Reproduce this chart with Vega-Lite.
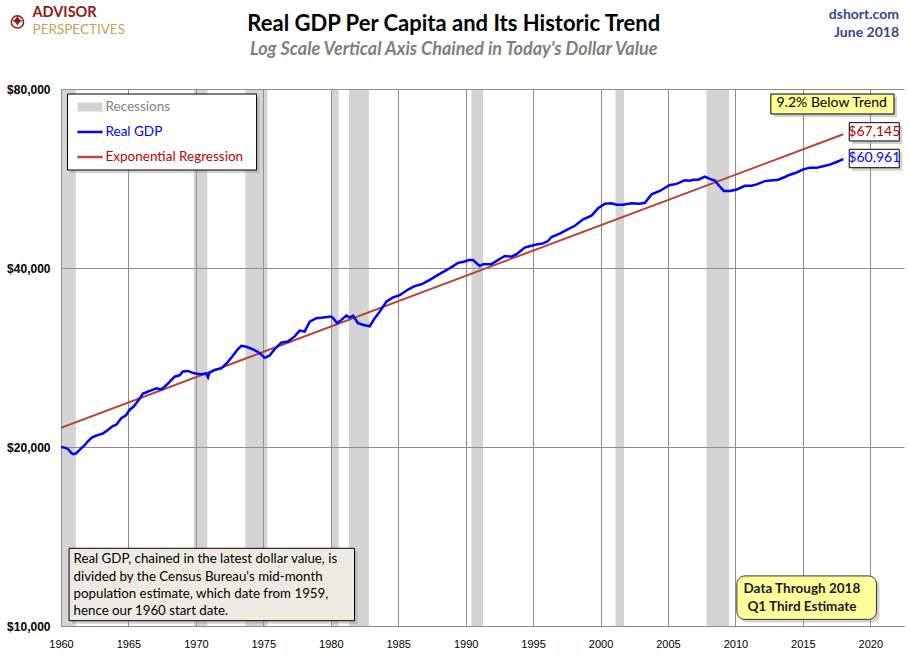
{
  "$schema": "https://vega.github.io/schema/vega-lite/v6.json",
  "width": 843,
  "height": 537,
  "autosize": {"type": "none"},
  "padding": {"left": 61, "top": 89, "right": 5, "bottom": 34},
  "background": "white",
  "resolve": {"scale": {"color": "independent"}},
  "config": {
    "view": {"stroke": null},
    "axis": {
      "labelFont": "Liberation Sans",
      "labelFontSize": 11,
      "labelColor": "#000000",
      "grid": true,
      "gridColor": "#8c8c8c",
      "gridWidth": 1,
      "ticks": false,
      "title": null
    }
  },
  "encoding": {
    "x": {
      "type": "quantitative",
      "scale": {"domain": [1960, 2022.5], "nice": false, "zero": false},
      "axis": {
        "values": [1960, 1965, 1970, 1975, 1980, 1985, 1990, 1995, 2000, 2005, 2010, 2015, 2020],
        "format": "d",
        "domain": true,
        "domainColor": "#8c8c8c",
        "labelPadding": 12,
        "labelFlush": false
      }
    },
    "y": {
      "type": "quantitative",
      "scale": {"type": "log", "domain": [10000, 80000], "nice": false, "zero": false},
      "axis": {
        "values": [10000, 20000, 40000, 80000],
        "format": "$,d",
        "domain": false,
        "labelPadding": 11,
        "labelFontSize": 12,
        "labelFontWeight": "bold"
      }
    }
  },
  "layer": [
    {
      "data": {"values": [
        {"start": 1960.0, "end": 1961.1},
        {"start": 1969.85, "end": 1970.85},
        {"start": 1973.67, "end": 1975.3},
        {"start": 1980.04, "end": 1980.59},
        {"start": 1981.35, "end": 1982.83},
        {"start": 1990.43, "end": 1991.29},
        {"start": 2001.11, "end": 2001.75},
        {"start": 2007.86, "end": 2009.54}
      ]},
      "mark": {"type": "rect", "fill": "#999999", "fillOpacity": 0.42},
      "encoding": {
        "x": {"field": "start", "type": "quantitative"},
        "x2": {"field": "end"},
        "y": null
      }
    },
    {
      "data": {"values": [
        {"x1": 1960.7, "x2": 1974.72, "y1": 77554, "y2": 57785},
        {"x1": 2012.85, "x2": 2021.98, "y1": 77554, "y2": 71781},
        {"x1": 2018.66, "x2": 2022.37, "y1": 69409, "y2": 64655},
        {"x1": 2018.66, "x2": 2022.37, "y1": 62608, "y2": 58299},
        {"x1": 1960.82, "x2": 1981.98, "y1": 13354, "y2": 10089}
      ]},
      "mark": {"type": "rect", "fill": "#9a9a9a", "fillOpacity": 0.45},
      "encoding": {
        "x": {"field": "x1", "type": "quantitative"},
        "x2": {"field": "x2"},
        "y": {"field": "y1", "type": "quantitative"},
        "y2": {"field": "y2"}
      }
    },
    {
      "data": {"values": [
        {"x1": 2010.33, "x2": 2020.68, "y1": 12000, "y2": 10141}
      ]},
      "mark": {"type": "rect", "fill": "#9a9a9a", "fillOpacity": 0.45, "cornerRadius": 8},
      "encoding": {
        "x": {"field": "x1", "type": "quantitative"},
        "x2": {"field": "x2"},
        "y": {"field": "y1", "type": "quantitative"},
        "y2": {"field": "y2"}
      }
    },
    {
      "data": {"values": [
        {"x1": 1960.48, "x2": 1974.5, "y1": 78460, "y2": 58460}
      ]},
      "mark": {"type": "rect", "fill": "#ffffff", "stroke": "#000000", "strokeWidth": 1},
      "encoding": {
        "x": {"field": "x1", "type": "quantitative"},
        "x2": {"field": "x2"},
        "y": {"field": "y1", "type": "quantitative"},
        "y2": {"field": "y2"}
      }
    },
    {
      "data": {"values": [
        {"x1": 1961.22, "x2": 1963.08, "y1": 75930, "y2": 73320}
      ]},
      "mark": {"type": "rect", "fill": "#d4d4d4"},
      "encoding": {
        "x": {"field": "x1", "type": "quantitative"},
        "x2": {"field": "x2"},
        "y": {"field": "y1", "type": "quantitative"},
        "y2": {"field": "y2"}
      }
    },
    {
      "data": {"values": [
        {"series": "Real GDP", "year": 1961.22, "value": 67740},
        {"series": "Real GDP", "year": 1963.08, "value": 67740},
        {"series": "Exponential Regression", "year": 1961.22, "value": 61470},
        {"series": "Exponential Regression", "year": 1963.08, "value": 61470}
      ]},
      "mark": {"type": "line", "strokeWidth": 2.5},
      "encoding": {
        "x": {"field": "year", "type": "quantitative"},
        "y": {"field": "value", "type": "quantitative"},
        "color": {
          "field": "series",
          "type": "nominal",
          "scale": {"domain": ["Real GDP", "Exponential Regression"], "range": ["#0000ff", "#b5443b"]},
          "legend": null
        }
      }
    },
    {
      "data": {"values": [
        {"label": "Recessions", "year": 1963.3, "value": 74610},
        {"label": "Real GDP", "year": 1963.3, "value": 67740},
        {"label": "Exponential Regression", "year": 1963.3, "value": 61470}
      ]},
      "mark": {"type": "text", "font": "Lato", "fontSize": 13.5, "align": "left", "baseline": "middle"},
      "encoding": {
        "x": {"field": "year", "type": "quantitative"},
        "y": {"field": "value", "type": "quantitative"},
        "text": {"field": "label"},
        "color": {
          "field": "label",
          "type": "nominal",
          "scale": {"domain": ["Recessions", "Real GDP", "Exponential Regression"], "range": ["#808080", "#0000ff", "#c00000"]},
          "legend": null
        }
      }
    },
    {
      "data": {"values": [
        {"year": 1960.0, "value": 21550},
        {"year": 2018.0, "value": 67145}
      ]},
      "mark": {"type": "line", "strokeWidth": 2, "color": "#b5443b", "clip": true},
      "encoding": {
        "x": {"field": "year", "type": "quantitative"},
        "y": {"field": "value", "type": "quantitative"}
      }
    },
    {
      "data": {"values": [
        {"year": 1960.0, "value": 20000}, {"year": 1960.25, "value": 19950}, {"year": 1960.5, "value": 19860},
        {"year": 1960.75, "value": 19550}, {"year": 1960.9, "value": 19450}, {"year": 1961.1, "value": 19500},
        {"year": 1961.4, "value": 19800}, {"year": 1961.75, "value": 20140}, {"year": 1962.0, "value": 20450},
        {"year": 1962.24, "value": 20700}, {"year": 1962.5, "value": 20850}, {"year": 1962.73, "value": 20940},
        {"year": 1963.1, "value": 21070}, {"year": 1963.47, "value": 21370}, {"year": 1963.84, "value": 21690},
        {"year": 1964.1, "value": 21800}, {"year": 1964.47, "value": 22360}, {"year": 1964.84, "value": 22640},
        {"year": 1965.08, "value": 23090}, {"year": 1965.35, "value": 23350}, {"year": 1965.58, "value": 23700},
        {"year": 1965.85, "value": 24150}, {"year": 1966.07, "value": 24600}, {"year": 1966.3, "value": 24700},
        {"year": 1966.56, "value": 24860}, {"year": 1966.8, "value": 24950}, {"year": 1967.06, "value": 25100},
        {"year": 1967.43, "value": 24990}, {"year": 1967.68, "value": 25260}, {"year": 1968.05, "value": 25740},
        {"year": 1968.42, "value": 26260}, {"year": 1968.79, "value": 26400}, {"year": 1969.04, "value": 26790},
        {"year": 1969.4, "value": 26850}, {"year": 1969.78, "value": 26650}, {"year": 1970.1, "value": 26550},
        {"year": 1970.4, "value": 26500}, {"year": 1970.77, "value": 26590}, {"year": 1970.9, "value": 26200},
        {"year": 1971.0, "value": 26650}, {"year": 1971.39, "value": 26950}, {"year": 1971.88, "value": 27120},
        {"year": 1972.1, "value": 27400}, {"year": 1972.38, "value": 27810}, {"year": 1972.62, "value": 28250},
        {"year": 1972.87, "value": 28720}, {"year": 1973.1, "value": 29200}, {"year": 1973.37, "value": 29600},
        {"year": 1973.74, "value": 29490}, {"year": 1974.05, "value": 29300}, {"year": 1974.35, "value": 29100},
        {"year": 1974.6, "value": 28900}, {"year": 1974.85, "value": 28600}, {"year": 1975.1, "value": 28250},
        {"year": 1975.47, "value": 28500}, {"year": 1975.7, "value": 28940}, {"year": 1975.9, "value": 29300},
        {"year": 1976.33, "value": 29970}, {"year": 1976.82, "value": 30090}, {"year": 1977.32, "value": 30690},
        {"year": 1977.69, "value": 31390}, {"year": 1978.06, "value": 31270}, {"year": 1978.44, "value": 32500},
        {"year": 1978.93, "value": 32940}, {"year": 1979.42, "value": 33010}, {"year": 1979.75, "value": 33080},
        {"year": 1980.05, "value": 33150}, {"year": 1980.3, "value": 32700}, {"year": 1980.46, "value": 32300},
        {"year": 1980.79, "value": 32720}, {"year": 1981.16, "value": 33260}, {"year": 1981.4, "value": 33010},
        {"year": 1981.65, "value": 33260}, {"year": 1982.02, "value": 32300}, {"year": 1982.51, "value": 32050},
        {"year": 1982.89, "value": 31920}, {"year": 1983.26, "value": 32940}, {"year": 1983.63, "value": 33780},
        {"year": 1984.12, "value": 35100}, {"year": 1984.62, "value": 35700}, {"year": 1985.11, "value": 36000},
        {"year": 1985.73, "value": 36800}, {"year": 1986.22, "value": 37300}, {"year": 1986.72, "value": 37560},
        {"year": 1987.34, "value": 38200}, {"year": 1987.95, "value": 38950}, {"year": 1988.57, "value": 39660},
        {"year": 1989.07, "value": 40300}, {"year": 1989.44, "value": 40800}, {"year": 1989.8, "value": 40950},
        {"year": 1990.25, "value": 41250}, {"year": 1990.55, "value": 41250}, {"year": 1991.05, "value": 40300},
        {"year": 1991.29, "value": 40600}, {"year": 1991.91, "value": 40600}, {"year": 1992.4, "value": 41250},
        {"year": 1992.9, "value": 41900}, {"year": 1993.4, "value": 41800}, {"year": 1993.77, "value": 42200},
        {"year": 1994.38, "value": 43300}, {"year": 1994.88, "value": 43600}, {"year": 1995.25, "value": 43800},
        {"year": 1995.74, "value": 44000}, {"year": 1996.11, "value": 44400}, {"year": 1996.36, "value": 45100},
        {"year": 1996.98, "value": 45700}, {"year": 1997.6, "value": 46500}, {"year": 1998.1, "value": 47100},
        {"year": 1998.71, "value": 48300}, {"year": 1999.33, "value": 49000}, {"year": 1999.82, "value": 50400},
        {"year": 2000.32, "value": 51300}, {"year": 2000.8, "value": 51400}, {"year": 2001.19, "value": 51100},
        {"year": 2001.68, "value": 51100}, {"year": 2002.3, "value": 51400}, {"year": 2002.9, "value": 51300},
        {"year": 2003.29, "value": 51500}, {"year": 2003.78, "value": 53200}, {"year": 2004.4, "value": 53900},
        {"year": 2005.1, "value": 55100}, {"year": 2005.64, "value": 55400}, {"year": 2006.25, "value": 56200},
        {"year": 2006.62, "value": 56100}, {"year": 2006.87, "value": 56300}, {"year": 2007.24, "value": 56300},
        {"year": 2007.74, "value": 57000}, {"year": 2008.1, "value": 56500}, {"year": 2008.48, "value": 56100},
        {"year": 2008.85, "value": 54800}, {"year": 2009.15, "value": 53900}, {"year": 2009.6, "value": 53900},
        {"year": 2010.1, "value": 54200}, {"year": 2010.7, "value": 55000}, {"year": 2011.2, "value": 55000},
        {"year": 2011.57, "value": 55300}, {"year": 2012.19, "value": 56000}, {"year": 2012.8, "value": 56200},
        {"year": 2013.17, "value": 56300}, {"year": 2013.67, "value": 56900}, {"year": 2014.04, "value": 57400},
        {"year": 2014.54, "value": 57900}, {"year": 2015.03, "value": 58600}, {"year": 2015.53, "value": 59000},
        {"year": 2016.0, "value": 58950}, {"year": 2016.5, "value": 59300}, {"year": 2017.0, "value": 59700},
        {"year": 2017.5, "value": 60300}, {"year": 2018.0, "value": 60961}
      ]},
      "mark": {"type": "line", "strokeWidth": 2.5, "color": "#0000ff", "clip": true},
      "encoding": {
        "x": {"field": "year", "type": "quantitative"},
        "y": {"field": "value", "type": "quantitative"}
      }
    },
    {
      "data": {"values": [
        {"x1": 2018.44, "x2": 2022.15, "y1": 70220, "y2": 65410},
        {"x1": 2018.44, "x2": 2022.15, "y1": 63340, "y2": 58980}
      ]},
      "mark": {"type": "rect", "fill": "#ffffff", "stroke": "#000000", "strokeWidth": 1},
      "encoding": {
        "x": {"field": "x1", "type": "quantitative"},
        "x2": {"field": "x2"},
        "y": {"field": "y1", "type": "quantitative"},
        "y2": {"field": "y2"}
      }
    },
    {
      "data": {"values": [
        {"x1": 2012.63, "x2": 2021.76, "y1": 78460, "y2": 72620}
      ]},
      "mark": {"type": "rect", "fill": "#ffff99", "stroke": "#000000", "strokeWidth": 1},
      "encoding": {
        "x": {"field": "x1", "type": "quantitative"},
        "x2": {"field": "x2"},
        "y": {"field": "y1", "type": "quantitative"},
        "y2": {"field": "y2"}
      }
    },
    {
      "data": {"values": [
        {"x1": 2010.11, "x2": 2020.46, "y1": 12140, "y2": 10260}
      ]},
      "mark": {"type": "rect", "fill": "#ffff99", "stroke": "#333333", "strokeWidth": 1, "cornerRadius": 8},
      "encoding": {
        "x": {"field": "x1", "type": "quantitative"},
        "x2": {"field": "x2"},
        "y": {"field": "y1", "type": "quantitative"},
        "y2": {"field": "y2"}
      }
    },
    {
      "data": {"values": [
        {"x1": 1960.6, "x2": 1981.76, "y1": 13510, "y2": 10207}
      ]},
      "mark": {"type": "rect", "fill": "#eeece1", "stroke": "#000000", "strokeWidth": 1},
      "encoding": {
        "x": {"field": "x1", "type": "quantitative"},
        "x2": {"field": "x2"},
        "y": {"field": "y1", "type": "quantitative"},
        "y2": {"field": "y2"}
      }
    },
    {
      "data": {"values": [
        {"year": 2017.14, "value": 75680, "label": "9.2% Below Trend"}
      ]},
      "mark": {"type": "text", "font": "Lato", "fontSize": 14, "color": "#000000", "align": "center", "baseline": "middle"},
      "encoding": {
        "x": {"field": "year", "type": "quantitative"},
        "y": {"field": "value", "type": "quantitative"},
        "text": {"field": "label"}
      }
    },
    {
      "data": {"values": [
        {"year": 2020.3, "value": 67740, "label": "$67,145"}
      ]},
      "mark": {"type": "text", "font": "Lato", "fontSize": 14, "color": "#c00000", "align": "center", "baseline": "middle"},
      "encoding": {
        "x": {"field": "year", "type": "quantitative"},
        "y": {"field": "value", "type": "quantitative"},
        "text": {"field": "label"}
      }
    },
    {
      "data": {"values": [
        {"year": 2020.3, "value": 61130, "label": "$60,961"}
      ]},
      "mark": {"type": "text", "font": "Lato", "fontSize": 14, "color": "#0000ff", "align": "center", "baseline": "middle"},
      "encoding": {
        "x": {"field": "year", "type": "quantitative"},
        "y": {"field": "value", "type": "quantitative"},
        "text": {"field": "label"}
      }
    },
    {
      "data": {"values": [
        {"year": 1960.93, "value": 12950, "label": "Real GDP, chained in the latest dollar value, is"},
        {"year": 1960.93, "value": 12100, "label": "divided by the Census Bureau's mid-month"},
        {"year": 1960.93, "value": 11320, "label": "population estimate, which date from 1959,"},
        {"year": 1960.93, "value": 10590, "label": "hence our 1960 start date."}
      ]},
      "mark": {"type": "text", "font": "Lato", "fontSize": 13.3, "color": "#000000", "align": "left", "baseline": "middle"},
      "encoding": {
        "x": {"field": "year", "type": "quantitative"},
        "y": {"field": "value", "type": "quantitative"},
        "text": {"field": "label"}
      }
    },
    {
      "data": {"values": [
        {"year": 2014.93, "value": 11530, "label": "Data Through 2018"},
        {"year": 2014.93, "value": 10780, "label": "Q1 Third Estimate"}
      ]},
      "mark": {"type": "text", "font": "Lato", "fontSize": 13.5, "fontWeight": "bold", "color": "#1a1a2e", "align": "center", "baseline": "middle"},
      "encoding": {
        "x": {"field": "year", "type": "quantitative"},
        "y": {"field": "value", "type": "quantitative"},
        "text": {"field": "label"}
      }
    },
    {
      "data": {"values": [
        {"year": 1989.12, "value": 102900, "label": "Real GDP Per Capita and Its Historic Trend"}
      ]},
      "mark": {"type": "text", "font": "Lato", "fontSize": 22, "fontWeight": "bold", "color": "#000000", "align": "center", "baseline": "middle"},
      "encoding": {
        "x": {"field": "year", "type": "quantitative"},
        "y": {"field": "value", "type": "quantitative"},
        "text": {"field": "label"}
      }
    },
    {
      "data": {"values": [
        {"year": 1989.12, "value": 93050, "label": "Log Scale Vertical Axis Chained in Today's Dollar Value"}
      ]},
      "mark": {"type": "text", "font": "Lato", "fontSize": 18, "fontWeight": "bold", "fontStyle": "italic", "color": "#7f7f7f", "align": "center", "baseline": "middle"},
      "encoding": {
        "x": {"field": "year", "type": "quantitative"},
        "y": {"field": "value", "type": "quantitative"},
        "text": {"field": "label"}
      }
    },
    {
      "data": {"values": [
        {"year": 2022.13, "value": 106500, "label": "dshort.com"},
        {"year": 2022.13, "value": 99400, "label": "June 2018"}
      ]},
      "mark": {"type": "text", "font": "Lato", "fontSize": 14, "fontWeight": "bold", "color": "#34488a", "align": "right", "baseline": "middle"},
      "encoding": {
        "x": {"field": "year", "type": "quantitative"},
        "y": {"field": "value", "type": "quantitative"},
        "text": {"field": "label"}
      }
    },
    {
      "data": {"values": [
        {"year": 1957.89, "value": 107500, "label": "ADVISOR"}
      ]},
      "mark": {"type": "text", "font": "Lato", "fontSize": 14.5, "fontWeight": "bold", "color": "#8b1a1a", "align": "left", "baseline": "middle"},
      "encoding": {
        "x": {"field": "year", "type": "quantitative"},
        "y": {"field": "value", "type": "quantitative"},
        "text": {"field": "label"}
      }
    },
    {
      "data": {"values": [
        {"year": 1957.89, "value": 100700, "label": "PERSPECTIVES"}
      ]},
      "mark": {"type": "text", "font": "Lato", "fontSize": 13.5, "color": "#c4a25a", "align": "left", "baseline": "middle"},
      "encoding": {
        "x": {"field": "year", "type": "quantitative"},
        "y": {"field": "value", "type": "quantitative"},
        "text": {"field": "label"}
      }
    },
    {
      "data": {"values": [
        {"year": 1956.77, "value": 103700, "label": "✦"}
      ]},
      "mark": {"type": "text", "font": "DejaVu Sans", "fontSize": 17, "color": "#8b1a1a", "align": "center", "baseline": "middle"},
      "encoding": {
        "x": {"field": "year", "type": "quantitative"},
        "y": {"field": "value", "type": "quantitative"},
        "text": {"field": "label"}
      }
    },
    {
      "data": {"values": [
        {"year": 1956.77, "value": 103700}
      ]},
      "mark": {"type": "point", "shape": "circle", "size": 150, "filled": false, "stroke": "#8b1a1a", "strokeWidth": 1.5, "opacity": 1},
      "encoding": {
        "x": {"field": "year", "type": "quantitative"},
        "y": {"field": "value", "type": "quantitative"}
      }
    }
  ]
}
